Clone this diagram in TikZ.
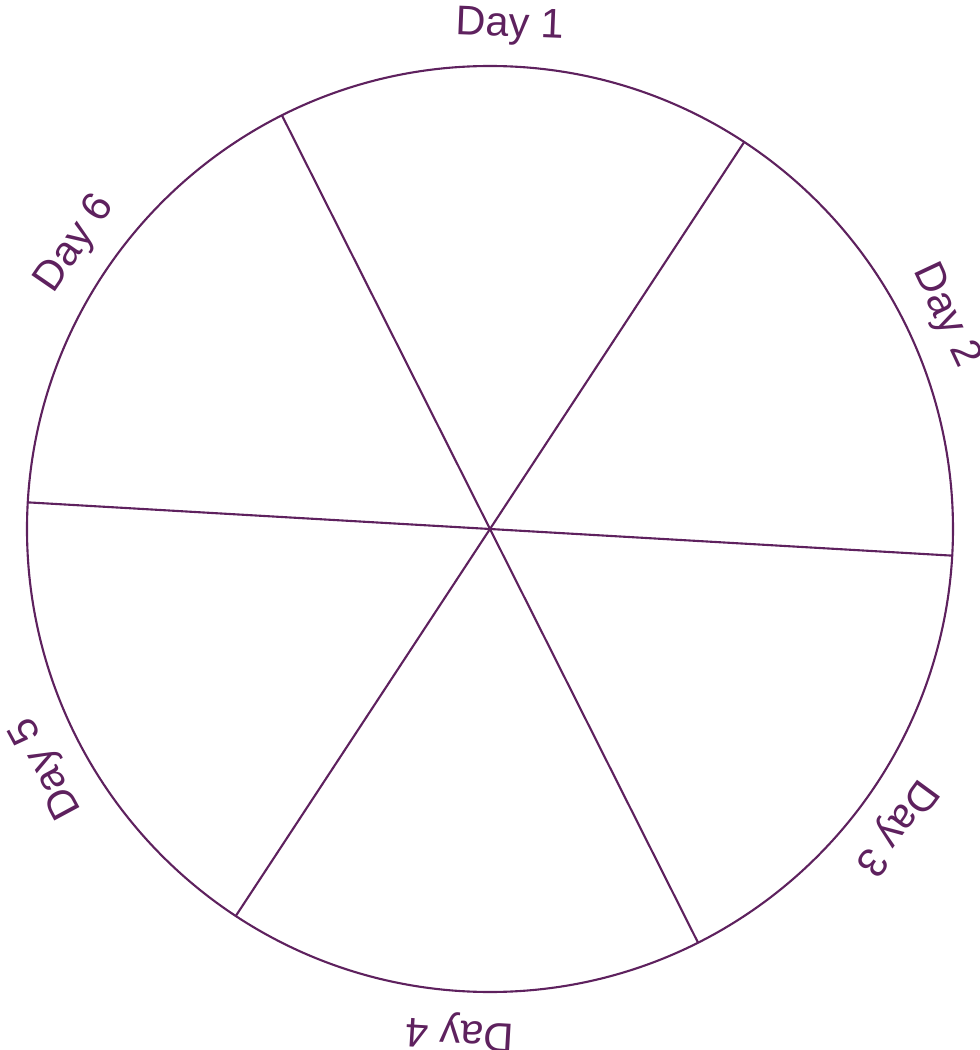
\documentclass[tikz,border=0pt]{standalone}
\usepackage{fontspec}
\setmainfont{Liberation Sans}
\usepackage{tikz}
\usetikzlibrary{calc}
\usepackage{xcolor}
\definecolor{plum}{RGB}{94,33,94}

\tikzset{
  wheel/.style={draw=plum, line width=0.6pt},
  daylabel/.style={text=plum, inner sep=0pt, font=\fontsize{11.8}{13}\selectfont}
}

\begin{document}
\begin{tikzpicture}
  \useasboundingbox (-4.90,-5.21) rectangle (4.90,5.29);
  \coordinate (hub) at (0,0);
  \draw[wheel] (hub) circle (4.63);
  % spokes, one every 60 degrees
  \foreach \a [count=\i] in {56.7, 116.7, 176.7} {
    \coordinate (rimA\i) at (\a:4.63);
    \coordinate (rimB\i) at (\a+180:4.63);
    \draw[wheel] (rimA\i) -- (hub) -- (rimB\i);
  }
  % day labels, tops facing out
  \foreach \a [count=\i] in {87.7, 25.1, -36.3, -93.4, -151.7, 145.5} {
    \node[daylabel, rotate=\a-90] (day\i) at (\a:5.03) {Day \i};
  }
\end{tikzpicture}
\end{document}
